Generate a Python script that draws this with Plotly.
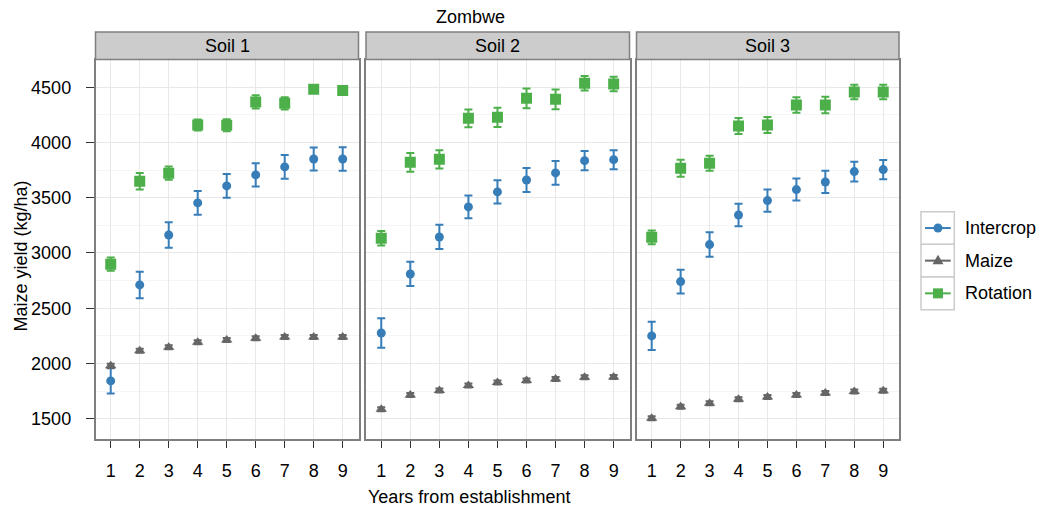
import plotly.graph_objects as go

years = [1, 2, 3, 4, 5, 6, 7, 8, 9]
soils = ["Soil 1", "Soil 2", "Soil 3"]
systems = ["Intercrop", "Maize", "Rotation"]

soil1_intercrop = [1842, 2711, 3163, 3453, 3607, 3707, 3779, 3851, 3851]
soil1_intercrop_se = [115, 120, 115, 108, 108, 105, 108, 105, 107]
soil1_maize = [1978, 2114, 2147, 2192, 2213, 2228, 2240, 2240, 2240]
soil1_maize_se = [20, 18, 18, 18, 18, 18, 18, 18, 18]
soil1_rotation = [2898, 3649, 3722, 4159, 4156, 4367, 4355, 4482, 4470]
soil1_rotation_se = [60, 75, 60, 50, 55, 60, 55, 30, 30]

soil2_intercrop = [2276, 2810, 3145, 3417, 3553, 3661, 3725, 3836, 3845]
soil2_intercrop_se = [134, 110, 110, 103, 105, 108, 108, 88, 86]
soil2_maize = [1586, 1715, 1755, 1800, 1827, 1845, 1860, 1875, 1878]
soil2_maize_se = [18, 18, 18, 18, 18, 18, 18, 18, 18]
soil2_rotation = [3133, 3821, 3848, 4219, 4228, 4400, 4391, 4536, 4530]
soil2_rotation_se = [66, 85, 83, 80, 87, 90, 90, 66, 66]

soil3_intercrop = [2249, 2741, 3076, 3344, 3474, 3574, 3643, 3737, 3755]
soil3_intercrop_se = [128, 108, 111, 102, 100, 100, 101, 89, 87]
soil3_maize = [1504, 1607, 1640, 1676, 1697, 1715, 1733, 1745, 1752]
soil3_maize_se = [18, 18, 18, 18, 18, 18, 18, 18, 18]
soil3_rotation = [3142, 3767, 3812, 4150, 4159, 4340, 4340, 4458, 4458]
soil3_rotation_se = [62, 78, 68, 72, 72, 70, 75, 66, 66]

data = [
    {"Intercrop": (soil1_intercrop, soil1_intercrop_se), "Maize": (soil1_maize, soil1_maize_se), "Rotation": (soil1_rotation, soil1_rotation_se)},
    {"Intercrop": (soil2_intercrop, soil2_intercrop_se), "Maize": (soil2_maize, soil2_maize_se), "Rotation": (soil2_rotation, soil2_rotation_se)},
    {"Intercrop": (soil3_intercrop, soil3_intercrop_se), "Maize": (soil3_maize, soil3_maize_se), "Rotation": (soil3_rotation, soil3_rotation_se)},
]

colors = {"Intercrop": "#377EB8", "Maize": "#666666", "Rotation": "#4DAF4A"}
symbols = {"Intercrop": "circle", "Maize": "triangle-up", "Rotation": "square"}
msizes = {"Intercrop": 9, "Maize": 10, "Rotation": 11}

W, H = 1037, 506
ML, MR, MT, MB = 95, 138, 60, 67
PW = W - ML - MR
PH = H - MT - MB


def px_x(px):
    return (px - ML) / PW


def px_y(py):
    return (H - MB - py) / PH


FONT = "Liberation Sans, Arial, Helvetica, sans-serif"
domains = [[px_x(95.5), px_x(358.5)], [px_x(366), px_x(629.5)], [px_x(636.5), px_x(899)]]

fig = go.Figure()
for i, d in enumerate(data):
    ax = "" if i == 0 else str(i + 1)
    for s in systems:
        vals, se = d[s]
        fig.add_trace(go.Scatter(
            x=years, y=vals, mode="markers", name=s, showlegend=False,
            xaxis="x" + ax, yaxis="y" + ax,
            marker=dict(symbol=symbols[s], size=msizes[s], color=colors[s]),
            error_y=dict(type="data", array=se, visible=True, color=colors[s], thickness=2, width=4),
        ))

layout = dict(
    width=W, height=H,
    margin=dict(l=ML, r=MR, t=MT, b=MB, pad=0),
    paper_bgcolor="white", plot_bgcolor="white",
    font=dict(family=FONT, size=18, color="black"),
    showlegend=False,
)
shapes = []
annotations = []
for i in range(3):
    ax = "" if i == 0 else str(i + 1)
    layout["xaxis" + ax] = dict(
        domain=domains[i], anchor="y" + ax, range=[0.475, 9.545],
        tickmode="array", tickvals=years, ticktext=[str(v) for v in years],
        ticks="outside", ticklen=7, tickcolor="#333333", tickwidth=1,
        showline=True, mirror=True, linecolor="#7f7f7f", linewidth=1.5,
        showgrid=True, gridcolor="#E8E8E8", gridwidth=1, zeroline=False,
        tickfont=dict(size=18, color="black", family=FONT), ticklabelstandoff=8,
        fixedrange=True,
    )
    layout["yaxis" + ax] = dict(
        domain=[0, 1], anchor="x" + ax, range=[1316, 4747],
        tick0=1500, dtick=500,
        ticks="outside" if i == 0 else "", ticklen=8, tickcolor="#333333", tickwidth=1,
        showticklabels=(i == 0),
        showline=True, mirror=True, linecolor="#7f7f7f", linewidth=1.5,
        showgrid=True, gridcolor="#E8E8E8", gridwidth=1, zeroline=False,
        minor=dict(dtick=250, showgrid=True, gridcolor="#F5F5F5", gridwidth=1, ticks=""),
        tickfont=dict(size=18, color="black", family=FONT), ticklabelstandoff=11,
        fixedrange=True,
    )
    shapes.append(dict(type="rect", xref="x" + ax + " domain", yref="paper",
                       x0=0, x1=1, y0=px_y(59.5), y1=px_y(32),
                       fillcolor="#CCCCCC", line=dict(color="#7f7f7f", width=1.5), layer="above"))
    annotations.append(dict(text=soils[i], xref="x" + ax + " domain", yref="paper",
                            x=0.5, y=px_y(46), showarrow=False, xanchor="center", yanchor="middle",
                            font=dict(size=18, family=FONT, color="black")))

annotations.append(dict(text="Zombwe", xref="paper", yref="paper", x=px_x(470), y=px_y(17),
                        showarrow=False, xanchor="center", yanchor="middle",
                        font=dict(size=18, family=FONT, color="black")))
annotations.append(dict(text="Years from establishment", xref="paper", yref="paper",
                        x=px_x(468.7), y=px_y(496.5), showarrow=False, xanchor="center", yanchor="middle",
                        font=dict(size=18, family=FONT, color="black")))
annotations.append(dict(text="Maize yield (kg/ha)", xref="paper", yref="paper",
                        x=px_x(20), y=px_y(256.5), showarrow=False, xanchor="center", yanchor="middle",
                        textangle=-90, font=dict(size=18, family=FONT, color="black")))

# manual legend
row_tops = [211.7, 244.3, 277.0]
row_h = 32.7
for k, s in enumerate(systems):
    top = row_tops[k]
    cy = top + row_h / 2
    shapes.append(dict(type="rect", xref="paper", yref="paper",
                       x0=px_x(921), x1=px_x(954.3), y0=px_y(top + row_h), y1=px_y(top),
                       fillcolor="white", line=dict(color="#CCCCCC", width=1.5)))
    shapes.append(dict(type="line", xref="paper", yref="paper",
                       x0=px_x(925), x1=px_x(950.7), y0=px_y(cy), y1=px_y(cy),
                       line=dict(color=colors[s], width=2)))
    if s == "Intercrop":
        shapes.append(dict(type="circle", xref="paper", yref="paper", xsizemode="pixel", ysizemode="pixel",
                           xanchor=px_x(938), yanchor=px_y(cy), x0=-4.5, x1=4.5, y0=-4.5, y1=4.5,
                           fillcolor=colors[s], line=dict(width=0)))
    elif s == "Maize":
        shapes.append(dict(type="path", xref="paper", yref="paper", xsizemode="pixel", ysizemode="pixel",
                           xanchor=px_x(938), yanchor=px_y(cy), path="M -5.5,-3.5 L 5.5,-3.5 L 0,6 Z",
                           fillcolor=colors[s], line=dict(width=0)))
    else:
        shapes.append(dict(type="rect", xref="paper", yref="paper", xsizemode="pixel", ysizemode="pixel",
                           xanchor=px_x(938), yanchor=px_y(cy), x0=-5, x1=5, y0=-5, y1=5,
                           fillcolor=colors[s], line=dict(width=0)))
    annotations.append(dict(text=s, xref="paper", yref="paper", x=px_x(963), y=px_y(cy),
                            showarrow=False, xanchor="left", yanchor="middle",
                            font=dict(size=18, family=FONT, color="black")))

layout["shapes"] = shapes
layout["annotations"] = annotations
fig.update_layout(**layout)
fig.write_html("out.html", config={"displayModeBar": False},
               post_script="document.body.style.margin='0';document.body.style.padding='0';")
